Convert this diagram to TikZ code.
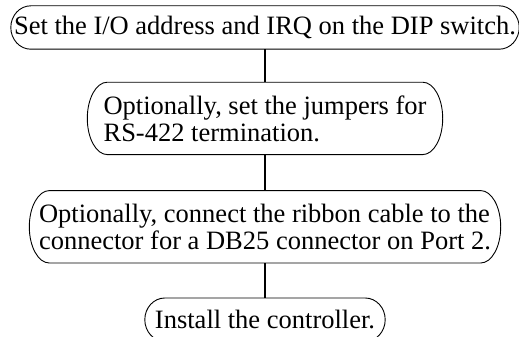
\documentclass[tikz,border=0pt]{standalone}
\usepackage{fontspec}
\setmainfont{Liberation Serif}
\usetikzlibrary{positioning,calc}

\tikzset{
  stepbox/.style={inner sep=0pt, align=left, minimum height=43pt,
    font=\fontsize{26.5}{27}\selectfont},
  outline/.style={line width=0.9pt},
  link/.style={line width=1.7pt},
}
\def\caprad{20pt}
% pill-shaped outline round a node
\newcommand{\capsule}[1]{%
  \draw[outline] let \p1=(#1.north east), \p2=(#1.south west) in
    ([xshift=\caprad]#1.north west) -- ([xshift=-\caprad]#1.north east)
    arc[start angle=90, end angle=-90, x radius=\caprad, y radius={(\y1-\y2)/2}]
    -- ([xshift=\caprad]#1.south west)
    arc[start angle=270, end angle=90, x radius=\caprad, y radius={(\y1-\y2)/2}]
    -- cycle;}

\begin{document}
\begin{tikzpicture}
    \clip (0,0) rectangle (519pt,-337pt);
    \node[stepbox, minimum width=508pt] (dip) at (265pt,-27.5pt) {Set the I/O address and IRQ on the DIP switch.};
    \node[stepbox, minimum width=355pt, minimum height=72pt, below=33pt of dip] (jumpers) {Optionally, set the jumpers for\\RS-422 termination.};
    \node[stepbox, minimum width=471pt, minimum height=72pt, below=36pt of jumpers] (ribbon) {Optionally, connect the ribbon cable to the\\connector for a DB25 connector on Port 2.};
    \node[stepbox, minimum width=240pt, below=35pt of ribbon] (install) {Install the controller.};
    \foreach \b in {dip,jumpers,ribbon,install} {\capsule{\b}}
    \draw[link] (dip) -- (jumpers);
    \draw[link] (jumpers) -- (ribbon);
    \draw[link] (ribbon) -- (install);
\end{tikzpicture}
\end{document}
